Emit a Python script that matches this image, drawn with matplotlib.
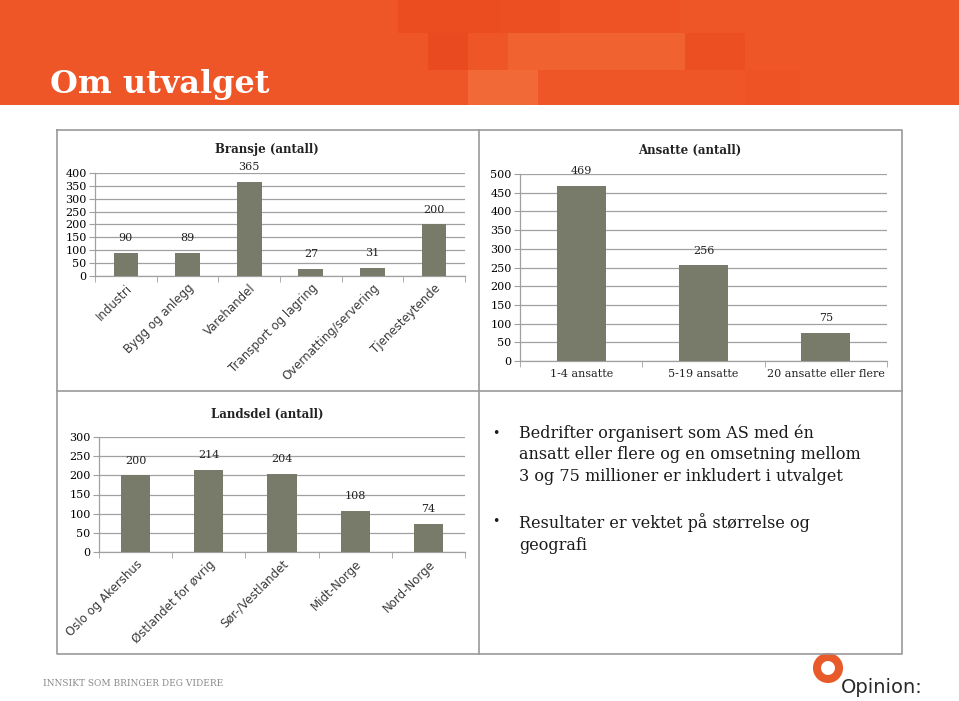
import numpy as np
import matplotlib
matplotlib.use("Agg")
import matplotlib.pyplot as plt
from matplotlib.patches import Rectangle, Circle

# data
bransje_cats = ["Industri", "Bygg og anlegg", "Varehandel", "Transport og lagring",
                "Overnatting/servering", "Tjenesteytende"]
bransje_vals = [90, 89, 365, 27, 31, 200]

ansatte_cats = ["1-4 ansatte", "5-19 ansatte", "20 ansatte eller flere"]
ansatte_vals = [469, 256, 75]

landsdel_cats = ["Oslo og Akershus", "Østlandet for øvrig", "Sør-/Vestlandet",
                 "Midt-Norge", "Nord-Norge"]
landsdel_vals = [200, 214, 204, 108, 74]

bullets = ["Bedrifter organisert som AS med én\nansatt eller flere og en omsetning mellom\n3 og 75 millioner er inkludert i utvalget",
           "Resultater er vektet på størrelse og\ngeografi"]

W, H = 959, 701
BAR = "#787a6a"
GRID = "#a0a0a0"
ORANGE = "#ee5627"
SERIF = "DejaVu Serif"

fig = plt.figure(figsize=(W / 100, H / 100), dpi=100, facecolor="white")

# background layer in pixel coordinates
bg = fig.add_axes([0, 0, 1, 1], zorder=-1)
bg.set_xlim(0, W)
bg.set_ylim(H, 0)
bg.axis("off")

# header band with a few faint tiles
bg.add_patch(Rectangle((0, 0), W, 105, color=ORANGE, lw=0))
tiles = [(398, 0, 102, 33, "#eb4c20"), (500, 0, 60, 33, "#ec5022"),
         (428, 33, 40, 37, "#ea4a1f"), (508, 33, 177, 37, "#f0622f"),
         (468, 70, 70, 35, "#f16936"), (560, 0, 120, 33, "#ed5325"),
         (685, 33, 60, 37, "#ec4f22"), (745, 70, 55, 35, "#ed5325")]
for x, y, w, h, c in tiles:
    bg.add_patch(Rectangle((x, y), w, h, color=c, lw=0))
bg.text(50, 93, "Om utvalget", color="white", fontsize=23, fontweight="bold",
        family=SERIF, va="baseline", ha="left")

# frame around the four panels
fc = "#9a9a9a"
bg.plot([57, 902, 902, 57, 57], [130, 130, 654, 654, 130], color=fc, lw=1.2)
bg.plot([479, 479], [130, 654], color=fc, lw=1.2)
bg.plot([57, 902], [391, 391], color=fc, lw=1.2)


def px_rect(left, top, right, bottom):
    return [left / W, 1 - bottom / H, (right - left) / W, (bottom - top) / H]


def bar_chart(rect, cats, vals, ymax, rotate):
    ax = fig.add_axes(px_rect(*rect))
    x = np.arange(len(cats))
    ax.bar(x, vals, width=0.4, color=BAR, zorder=3)
    ax.set_xlim(-0.5, len(cats) - 0.5)
    ax.set_ylim(0, ymax)
    ax.set_yticks(np.arange(0, ymax + 1, 50))
    ax.yaxis.grid(True, color=GRID, lw=0.9, zorder=0)
    ax.set_axisbelow(True)
    for s in ["top", "right"]:
        ax.spines[s].set_visible(False)
    for s in ["left", "bottom"]:
        ax.spines[s].set_color(GRID)
        ax.spines[s].set_linewidth(0.9)
    ax.tick_params(axis="y", length=4, color=GRID, labelsize=8, pad=2)
    for lab in ax.get_yticklabels():
        lab.set_family(SERIF)
    ax.set_xticks(x)
    ax.set_xticks(np.arange(-0.5, len(cats), 1), minor=True)
    ax.tick_params(axis="x", which="major", length=0)
    ax.tick_params(axis="x", which="minor", length=4, color=GRID)
    if rotate:
        ax.set_xticklabels(cats, rotation=45, ha="right", rotation_mode="anchor",
                           fontsize=8.5, color="#3a3a3a", family="DejaVu Sans")
        ax.tick_params(axis="x", which="major", pad=4)
    else:
        ax.set_xticklabels(cats, fontsize=8, family=SERIF, color="#222222")
        ax.tick_params(axis="x", which="major", pad=6)
    for xi, v in zip(x, vals):
        ax.annotate(str(v), (xi, v), xytext=(0, 7), textcoords="offset points",
                    ha="center", va="bottom", fontsize=8, family=SERIF, color="#222222")
    return ax


bar_chart((95, 173, 465, 276), bransje_cats, bransje_vals, 400, True)
bar_chart((520, 174, 887, 361), ansatte_cats, ansatte_vals, 500, False)
bar_chart((99, 437, 465, 552), landsdel_cats, landsdel_vals, 300, True)

bg.text(267, 150, "Bransje (antall)", ha="center", va="center", fontsize=8.5,
        fontweight="bold", family=SERIF, color="#222222")
bg.text(690, 150, "Ansatte (antall)", ha="center", va="center", fontsize=8.5,
        fontweight="bold", family=SERIF, color="#222222")
bg.text(267, 414, "Landsdel (antall)", ha="center", va="center", fontsize=8.5,
        fontweight="bold", family=SERIF, color="#222222")

# bullet text
for y, txt in zip([433, 522], bullets):
    bg.text(492, y, "•", ha="left", va="center", fontsize=9, color="#1a1a1a")
    bg.text(519, y - 9, txt, ha="left", va="top", fontsize=11.5, family=SERIF,
            color="#1a1a1a", linespacing=1.38)

# footer
bg.text(43, 683, "INNSIKT SOM BRINGER DEG VIDERE", ha="left", va="center",
        fontsize=6.5, family=SERIF, color="#8a8a8a")
bg.add_patch(Circle((828, 668), 11, fill=False, ec="#e85a2a", lw=5.8))
bg.text(841, 693, "Opinion:", ha="left", va="baseline", fontsize=14,
        family="DejaVu Sans", color="#2a2a2a")

fig.savefig("out.png", dpi=100, facecolor="white")
